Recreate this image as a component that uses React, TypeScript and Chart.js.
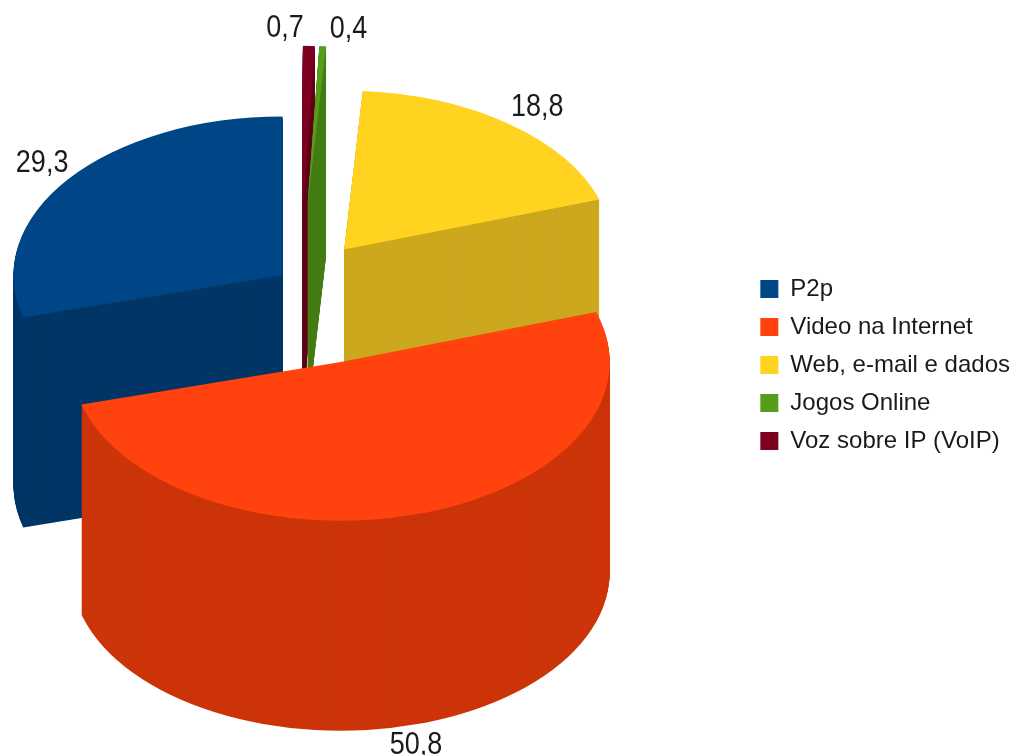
import React, { useEffect, useRef } from "react";
import { Chart, registerables } from "chart.js";

Chart.register(...registerables);

// Legend order, as in the reference
const categories = ["P2p", "Video na Internet", "Web, e-mail e dados", "Jogos Online", "Voz sobre IP (VoIP)"];
const shares = [29.3, 50.8, 18.8, 0.4, 0.7];
const topColors = ["#004586", "#ff420e", "#ffd320", "#579d1c", "#7e0021"];
const sideColors = ["#003666", "#cc3409", "#cca81e", "#457d16", "#650019"];
// Radial explosion of each slice, px
const explode = [22, 140, 72, 133, 133];
// Painter's order of the slices, back to front
const paintOrder = [0, 4, 3, 2, 1];
// Where each value label sits relative to the rim: side and shift
const labelShift = [[-1, 0, -16], [0, -3, 22], [1, 2, -17], [1, 7, -17], [-1, -5, -17]];

const FONT = '"Liberation Sans", Arial, sans-serif';
const TILT = 0.59;
const DEPTH = 210;
const RADIUS = 269;
const CENTER_X = 300;
const CENTER_Y = 283;
const TEXT_STRETCH = 1.15;

const rev = <T,>(a: T[]) => [...a].reverse();

const pie3d = {
  id: "pie3d",
  beforeDatasetDraw(chart: any) {
    const { ctx } = chart;
    const arcs = chart.getDatasetMeta(0).data;
    const n = arcs.length;
    paintOrder.forEach((src) => {
      const arc = arcs[n - 1 - src];
      const saved = arc.options;
      const mid = (arc.startAngle + arc.endAngle) / 2;
      const place = (dy: number) => {
        ctx.save();
        ctx.translate(CENTER_X, CENTER_Y + dy);
        ctx.scale(1, TILT);
        ctx.translate(Math.cos(mid) * explode[src] - arc.x, Math.sin(mid) * explode[src] - arc.y);
      };
      arc.options = Object.create(saved, {
        backgroundColor: { value: sideColors[src] },
        borderWidth: { value: 0 },
      });
      for (let k = DEPTH; k >= 1; k--) {
        place(k);
        arc.draw(ctx);
        ctx.restore();
      }
      arc.options = Object.create(saved, { borderWidth: { value: 0 } });
      place(0);
      arc.draw(ctx);
      ctx.restore();
      arc.options = saved;
    });

    // value labels
    ctx.save();
    ctx.font = `27px ${FONT}`;
    ctx.fillStyle = "#1a1a1a";
    ctx.textBaseline = "middle";
    paintOrder.forEach((src) => {
      const arc = arcs[n - 1 - src];
      const mid = (arc.startAngle + arc.endAngle) / 2;
      const r = explode[src] + RADIUS;
      const x = CENTER_X + Math.cos(mid) * r;
      const y = CENTER_Y + Math.sin(mid) * r * TILT;
      const [side, dx, dy] = labelShift[src];
      ctx.textAlign = side < 0 ? "right" : side > 0 ? "left" : "center";
      const below = Math.sin(mid) > 0 ? DEPTH : 0;
      ctx.save();
      ctx.translate(x + dx, y + below + dy);
      ctx.scale(1, TEXT_STRETCH);
      ctx.fillText(shares[src].toFixed(1).replace(".", ","), 0, 0);
      ctx.restore();
    });
    ctx.restore();
    return false;
  },
};

export default function App() {
  const ref = useRef<HTMLCanvasElement>(null);
  useEffect(() => {
    const chart = new Chart(ref.current!, {
      type: "pie",
      data: {
        labels: rev(categories),
        datasets: [
          {
            data: rev(shares),
            backgroundColor: rev(topColors),
            borderWidth: 0,
          },
        ],
      },
      options: {
        responsive: false,
        animation: false,
        radius: RADIUS,
        layout: { padding: { bottom: 25, right: -5 } },
        plugins: {
          tooltip: { enabled: false },
          legend: {
            position: "right",
            labels: {
              sort: (a: any, b: any) => b.index - a.index,
              boxWidth: 18,
              boxHeight: 18,
              padding: 14,
              color: "#1a1a1a",
              font: { family: FONT, size: 24 },
            },
          },
        },
      },
      plugins: [pie3d],
    } as any);
    return () => chart.destroy();
  }, []);
  return (
    <div style={{ position: "fixed", left: 0, top: 0, width: 1015, height: 755, background: "#fff" }}>
      <canvas ref={ref} width={1015} height={755} style={{ display: "block" }} />
    </div>
  );
}
